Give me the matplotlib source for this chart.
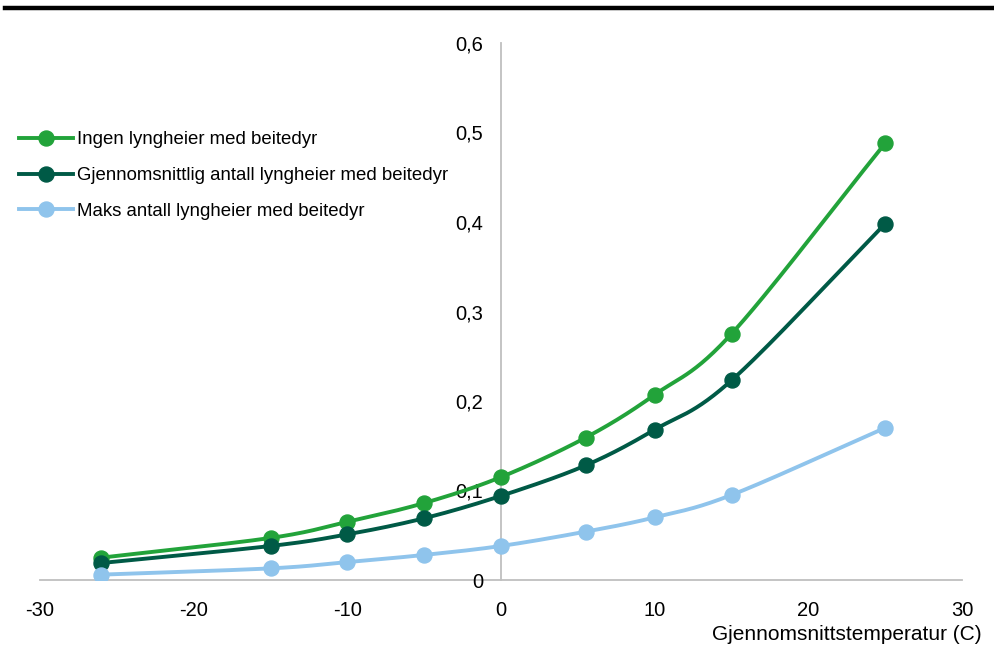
import numpy as np
import matplotlib
matplotlib.use("Agg")
import matplotlib.pyplot as plt
from matplotlib.lines import Line2D

plt.rcParams["font.family"] = ["Liberation Sans", "DejaVu Sans"]
plt.rcParams["axes.unicode_minus"] = False

# temperatur (C)
temps = [-26, -15, -10, -5, 0, 5.5, 10, 15, 25]
# serier
ingen = [0.025, 0.047, 0.065, 0.086, 0.115, 0.159, 0.207, 0.275, 0.488]
gjennomsnitt = [0.019, 0.038, 0.051, 0.069, 0.094, 0.128, 0.168, 0.223, 0.398]
maks = [0.006, 0.013, 0.020, 0.028, 0.038, 0.054, 0.070, 0.095, 0.170]

labels = [
    "Ingen lyngheier med beitedyr",
    "Gjennomsnittlig antall lyngheier med beitedyr",
    "Maks antall lyngheier med beitedyr",
]
colors = ["#22a33a", "#005a46", "#8fc4ec"]

x_ticks = [-30, -20, -10, 0, 10, 20, 30]
y_ticks = [0, 0.1, 0.2, 0.3, 0.4, 0.5, 0.6]
y_ticklabels = ["0", "0,1", "0,2", "0,3", "0,4", "0,5", "0,6"]


def smooth(xs, ys, n=30):
    """Catmull-Rom kurve gjennom punktene (som Excel sin glatte linje)"""
    p = np.column_stack([xs, ys]).astype(float)
    p = np.vstack([2 * p[0] - p[1], p, 2 * p[-1] - p[-2]])
    out = []
    for i in range(1, len(p) - 2):
        p0, p1, p2, p3 = p[i - 1], p[i], p[i + 1], p[i + 2]
        t = np.linspace(0, 1, n)[:, None]
        c1 = p1 + (p2 - p0) / 6
        c2 = p2 - (p3 - p1) / 6
        seg = ((1 - t) ** 3) * p1 + 3 * ((1 - t) ** 2) * t * c1 + 3 * (1 - t) * t ** 2 * c2 + t ** 3 * p2
        out.append(seg if i == 1 else seg[1:])
    out = np.vstack(out)
    return out[:, 0], out[:, 1]


fig = plt.figure(figsize=(9.94, 6.52), dpi=100)
ax = fig.add_axes([40 / 994, 72 / 652, 922 / 994, 537 / 652])

for ys, lab, col in zip([ingen, gjennomsnitt, maks], labels, colors):
    sx, sy = smooth(temps, ys)
    ax.plot(sx, sy, color=col, lw=2.8, solid_capstyle="round", zorder=3)
    ax.plot(temps, ys, "o", color=col, ms=10.8, zorder=4)

ax.set_xlim(-30, 30)
ax.set_ylim(0, 0.6)
ax.set_xticks(x_ticks)
ax.set_yticks(y_ticks)
ax.set_yticklabels(y_ticklabels)

for s in ["top", "right"]:
    ax.spines[s].set_visible(False)
ax.spines["left"].set_position(("data", 0))
ax.spines["bottom"].set_position(("data", 0))
for s in ["left", "bottom"]:
    ax.spines[s].set_color("#bfbfbf")
    ax.spines[s].set_linewidth(1.3)
    ax.spines[s].set_zorder(1)

ax.tick_params(axis="both", length=0, labelsize=14.5, colors="#000000")
ax.tick_params(axis="x", pad=15)
ax.tick_params(axis="y", pad=13)
ax.patch.set_alpha(0)

handles = [
    Line2D([], [], color=c, lw=2.8, marker="o", ms=10.8) for c in colors
]
fig.legend(
    handles, labels, loc="upper left", bbox_to_anchor=(0.012, 1 - 124 / 652),
    frameon=False, fontsize=13.4, handlelength=2.9, handletextpad=0.2,
    labelspacing=1.0, borderaxespad=0,
)

fig.text(982 / 994, 1 - 634 / 652, "Gjennomsnittstemperatur (C)",
         ha="right", va="center", fontsize=15)

# svart linje under (avkuttet) tittel
fig.add_artist(Line2D([5 / 994, 1], [1 - 8 / 652, 1 - 8 / 652],
                      color="black", lw=3.2, transform=fig.transFigure))

fig.savefig("out.png", dpi=100)
